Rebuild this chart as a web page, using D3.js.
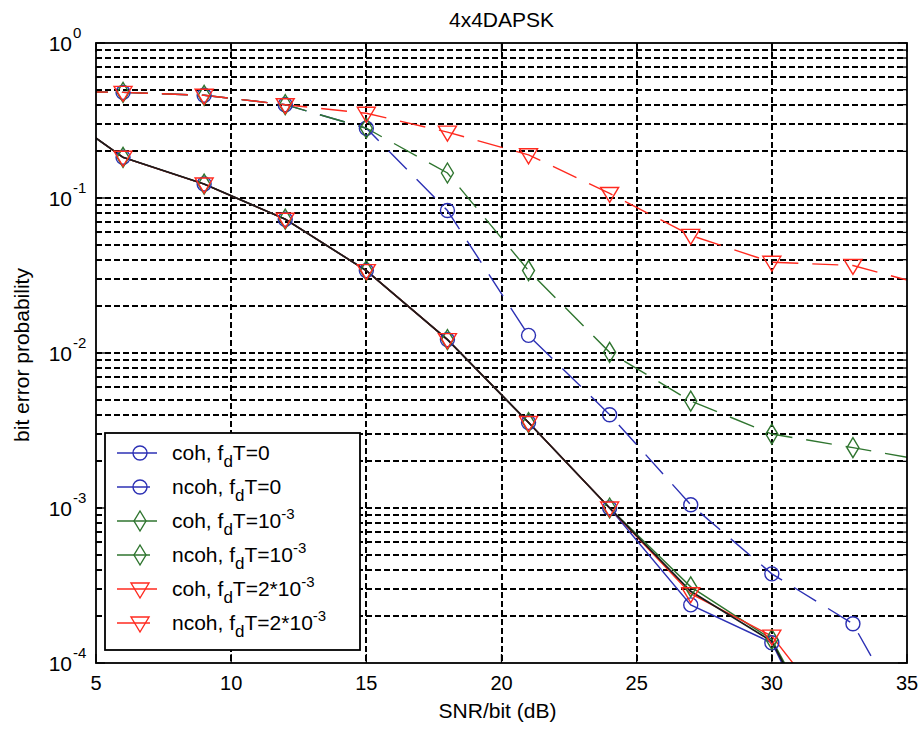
<!DOCTYPE html>
<html>
<head>
<meta charset="UTF-8">
<title>4x4DAPSK</title>
<script src="https://cdn.jsdelivr.net/npm/d3@7"></script>
<style>
  body { margin: 0; background: #fff; }
  svg { display: block; font-family: Arial, "Liberation Sans", sans-serif; }
</style>
</head>
<body>
<script>
// SNR points (dB) of the simulation
var snr = [3, 6, 9, 12, 15, 18, 21, 24, 27, 30, 33, 36];

// coherent receivers (solid)
var cohFd0   = [0.43, 0.183, 0.123, 0.073, 0.034, 0.0122, 0.00356, 0.001, 2.37e-4, 1.35e-4, 1.2e-5];
var cohFd1   = [0.43, 0.183, 0.123, 0.073, 0.034, 0.0122, 0.00356, 0.001, 3.1e-4, 1.42e-4, 1.5e-5];
var cohFd2   = [0.43, 0.183, 0.123, 0.073, 0.034, 0.0122, 0.00356, 0.001, 2.8e-4, 1.49e-4, 3.2e-5];
// dark trace that sits on the coherent curves
var cohDark  = [0.43, 0.183, 0.123, 0.073, 0.034, 0.0122, 0.00356, 0.001, 2.9e-4, 1.38e-4, 1.4e-5];

// non-coherent receivers (dashed)
var ncohFd0  = [0.49, 0.48, 0.46, 0.40, 0.282, 0.083, 0.013, 0.004, 0.00105, 3.76e-4, 1.79e-4, 2.1e-5];
var ncohFd1  = [0.49, 0.48, 0.46, 0.40, 0.282, 0.145, 0.034, 0.0101, 0.0049, 0.0030, 0.00245, 0.00198];
var ncohFd2  = [0.49, 0.48, 0.46, 0.40, 0.352, 0.266, 0.19, 0.107, 0.0574, 0.0385, 0.0367, 0.0265];

var xTicks = [5, 10, 15, 20, 25, 30, 35];
var yDecades = [0, -1, -2, -3, -4];

var legendLabels = [
  ["coh, f", "d", "T=0", ""],
  ["ncoh, f", "d", "T=0", ""],
  ["coh, f", "d", "T=10", "-3"],
  ["ncoh, f", "d", "T=10", "-3"],
  ["coh, f", "d", "T=2*10", "-3"],
  ["ncoh, f", "d", "T=2*10", "-3"]
];

var blue = "#2c30b4", green = "#2f752f", red = "#ff2a1f";

var series = [
  {vals: cohFd0,  color: blue,  marker: "circle",   dash: null},
  {vals: ncohFd0, color: blue,  marker: "circle",   dash: "26,14"},
  {vals: cohFd1,  color: green, marker: "diamond",  dash: null},
  {vals: ncohFd1, color: green, marker: "diamond",  dash: "26,14"},
  {vals: cohFd2,  color: red,   marker: "triangle", dash: null},
  {vals: ncohFd2, color: red,   marker: "triangle", dash: "26,14"}
];

var W = 920, H = 730;
var L = 96, R = 907, T = 43, B = 663;

var svg = d3.select("body").append("svg").attr("width", W).attr("height", H);

var x = d3.scaleLinear().domain([5, 35]).range([L, R]);
var y = d3.scaleLog().domain([1e-4, 1]).range([B, T]);

// grid
var minorVals = [];
for (var k = -4; k < 0; k++) {
  for (var m = 1; m <= 9; m++) minorVals.push(m * Math.pow(10, k));
}
var grid = svg.append("g").attr("stroke", "#000").attr("stroke-width", 2)
  .attr("stroke-dasharray", "6,3").attr("shape-rendering", "crispEdges");
grid.selectAll("line.h").data(minorVals.filter(function(v){ return v > 1e-4; }))
  .enter().append("line")
  .attr("x1", L).attr("x2", R)
  .attr("y1", function(d){ return Math.round(y(d)); })
  .attr("y2", function(d){ return Math.round(y(d)); });
grid.selectAll("line.v").data(xTicks.slice(1, -1))
  .enter().append("line")
  .attr("y1", T).attr("y2", B)
  .attr("x1", function(d){ return Math.round(x(d)); })
  .attr("x2", function(d){ return Math.round(x(d)); });

// ticks
var tk = svg.append("g").attr("stroke", "#000").attr("stroke-width", 1.3);
minorVals.concat([1]).forEach(function(v) {
  var major = Math.abs(Math.log10(v) - Math.round(Math.log10(v))) < 1e-9;
  var len = major ? 9 : 5;
  tk.append("line").attr("x1", L).attr("x2", L + len).attr("y1", y(v)).attr("y2", y(v));
  tk.append("line").attr("x1", R).attr("x2", R - len).attr("y1", y(v)).attr("y2", y(v));
});
xTicks.forEach(function(v) {
  tk.append("line").attr("x1", x(v)).attr("x2", x(v)).attr("y1", B).attr("y2", B - 9);
  tk.append("line").attr("x1", x(v)).attr("x2", x(v)).attr("y1", T).attr("y2", T + 9);
});

// curves
svg.append("clipPath").attr("id", "clip").append("rect")
  .attr("x", L).attr("y", T).attr("width", R - L).attr("height", B - T);
var plot = svg.append("g").attr("clip-path", "url(#clip)");

var line = d3.line()
  .x(function(d, i){ return x(snr[i]); })
  .y(function(d){ return y(d); });

function drawMarker(g, type, cx, cy, color) {
  if (type === "circle") {
    g.append("circle").attr("cx", cx).attr("cy", cy).attr("r", 7)
      .attr("fill", "none").attr("stroke", color).attr("stroke-width", 1.4);
  } else if (type === "diamond") {
    g.append("path").attr("d", "M" + cx + "," + (cy - 10) + "L" + (cx + 6) + "," + cy +
        "L" + cx + "," + (cy + 10) + "L" + (cx - 6) + "," + cy + "Z")
      .attr("fill", "none").attr("stroke", color).attr("stroke-width", 1.4);
  } else {
    g.append("path").attr("d", "M" + (cx - 9) + "," + (cy - 6) + "L" + (cx + 9) + "," + (cy - 6) +
        "L" + cx + "," + (cy + 9) + "Z")
      .attr("fill", "none").attr("stroke", color).attr("stroke-width", 1.4);
  }
}

series.forEach(function(s, si) {
  plot.append("path").datum(s.vals)
    .attr("d", line)
    .attr("fill", "none")
    .attr("stroke", s.color)
    .attr("stroke-width", 1.4)
    .attr("stroke-dasharray", s.dash);
  if (si === 4) {
    plot.append("path").datum(cohDark)
      .attr("d", line).attr("fill", "none")
      .attr("stroke", "#1a1a1a").attr("stroke-width", 1.7);
  }
});
series.forEach(function(s) {
  s.vals.forEach(function(v, i) {
    drawMarker(plot, s.marker, x(snr[i]), y(v), s.color);
  });
});

// frame
svg.append("rect").attr("x", L).attr("y", T).attr("width", R - L).attr("height", B - T)
  .attr("fill", "none").attr("stroke", "#000").attr("stroke-width", 1.8);

// tick labels
xTicks.forEach(function(v) {
  svg.append("text").attr("x", x(v)).attr("y", B + 27)
    .attr("text-anchor", "middle").attr("font-size", 20).text(v);
});
yDecades.forEach(function(d) {
  var yy = y(Math.pow(10, d));
  svg.append("text").attr("x", 72).attr("y", yy + 8)
    .attr("text-anchor", "end").attr("font-size", 21).text("10");
  svg.append("text").attr("x", 73).attr("y", yy - 5)
    .attr("font-size", 15).text(String(d));
});

// titles
svg.append("text").attr("x", (L + R) / 2).attr("y", 27)
  .attr("text-anchor", "middle").attr("font-size", 21).text("4x4DAPSK");
svg.append("text").attr("x", (L + R) / 2 - 4).attr("y", 718)
  .attr("text-anchor", "middle").attr("font-size", 21).text("SNR/bit (dB)");
svg.append("text").attr("transform", "translate(29,355) rotate(-90)")
  .attr("text-anchor", "middle").attr("font-size", 21).text("bit error probability");

// legend
var lg = svg.append("g");
lg.append("rect").attr("x", 105).attr("y", 433).attr("width", 255).attr("height", 217)
  .attr("fill", "#fff").attr("stroke", "#000").attr("stroke-width", 1.8);
series.forEach(function(s, i) {
  var ly = 453 + i * 34;
  lg.append("line").attr("x1", 117).attr("x2", s.dash ? 150 : 157)
    .attr("y1", ly).attr("y2", ly)
    .attr("stroke", s.color).attr("stroke-width", 1.4);
  drawMarker(lg, s.marker, 140, ly, s.color);
  var lab = legendLabels[i];
  var t = lg.append("text").attr("x", 172).attr("y", ly + 7).attr("font-size", 21);
  t.append("tspan").text(lab[0]);
  t.append("tspan").attr("dy", 7).attr("font-size", 17).text(lab[1]);
  t.append("tspan").attr("dy", -7).text(lab[2]);
  if (lab[3]) t.append("tspan").attr("dy", -9).attr("font-size", 15).text(lab[3]);
});
</script>
</body>
</html>
